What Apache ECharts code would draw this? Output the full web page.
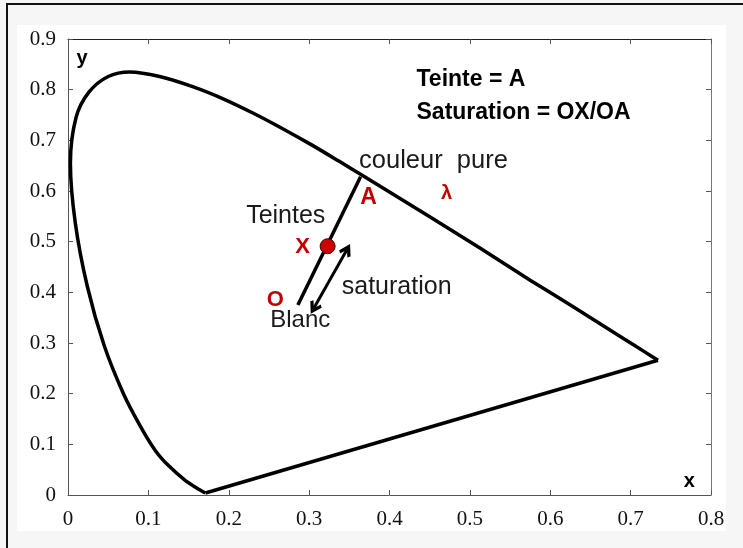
<!DOCTYPE html>
<html>
<head>
<meta charset="utf-8">
<script src="https://cdn.jsdelivr.net/npm/echarts@6/dist/echarts.min.js"></script>
<style>
html,body{margin:0;padding:0;width:743px;height:548px;overflow:hidden;background:#f6f6f6;}
#frame{position:absolute;left:6px;top:3px;width:800px;height:600px;border-left:2px solid #111;border-top:2px solid #111;}
#paper{position:absolute;left:17px;top:25px;width:709px;height:506px;background:#fff;}
#chart{position:absolute;left:0;top:0;width:743px;height:548px;}
</style>
</head>
<body>
<div id="frame"></div>
<div id="paper"></div>
<div id="chart"></div>
<script>
// Spectral locus (x, y chromaticity)
const locusX = [0.171,0.160,0.145,0.125,0.109,0.091,0.069,0.045,0.024,0.009,0.003,0.010,0.026,0.050,0.077,0.114,0.155,0.193,0.230,0.266,0.302,0.337,0.365,0.444,0.513,0.575,0.627,0.692,0.719,0.734];
const locusY = [0.004,0.014,0.030,0.058,0.087,0.133,0.200,0.295,0.412,0.538,0.655,0.745,0.795,0.826,0.835,0.826,0.806,0.782,0.754,0.724,0.692,0.659,0.632,0.555,0.487,0.424,0.373,0.308,0.281,0.266];
// Purple line (closing segment)
const purpleX = [0.734, 0.171];
const purpleY = [0.266, 0.004];
// White point O to pure colour A
const lineOAX = [0.286, 0.364];
const lineOAY = [0.375, 0.628];
// Sample colour X
const pointX = [0.323, 0.491];
// Saturation double arrow
const arrowFrom = [0.347, 0.484];
const arrowTo = [0.306, 0.369];
// Tick values
const xTicks = [0,0.1,0.2,0.3,0.4,0.5,0.6,0.7,0.8];
const yTicks = [0,0.1,0.2,0.3,0.4,0.5,0.6,0.7,0.8,0.9];
// Annotation texts and anchor coordinates
const annoText = ['y','x','Teinte = A','Saturation = OX/OA','couleur  pure','λ','A','Teintes','X','O','saturation','Blanc'];
const annoPos = [[0.0174,0.862],[0.773,0.026],[0.433,0.819],[0.433,0.754],[0.3615,0.659],[0.471,0.596],[0.374,0.586],[0.221,0.551],[0.292,0.489],[0.258,0.385],[0.340,0.4105],[0.251,0.345]];

const styles = {
  'y': {pos:'inside', bold:true, size:20, color:'#000'},
  'x': {pos:'inside', bold:true, size:20, color:'#000'},
  'Teinte = A': {pos:'right', bold:true, size:23, color:'#000'},
  'Saturation = OX/OA': {pos:'right', bold:true, size:23, color:'#000'},
  'couleur  pure': {pos:'right', bold:false, size:25.5, color:'#1a1a1a'},
  'λ': {pos:'inside', bold:true, size:20, color:'#c00000'},
  'A': {pos:'inside', bold:true, size:23, color:'#c00000'},
  'Teintes': {pos:'right', bold:false, size:25, color:'#1a1a1a'},
  'X': {pos:'inside', bold:true, size:22, color:'#c00000'},
  'O': {pos:'inside', bold:true, size:22, color:'#c00000'},
  'saturation': {pos:'right', bold:false, size:25, color:'#1a1a1a'},
  'Blanc': {pos:'right', bold:false, size:24, color:'#1a1a1a'}
};
const annoData = annoText.map((t,i)=>{
  const s = styles[t];
  return {value: annoPos[i], label: {show:true, formatter: t, position: s.pos, distance: 0, color: s.color,
    fontWeight: s.bold?'bold':'normal', fontSize: s.size, fontFamily:'Liberation Sans'}};
});

const chart = echarts.init(document.getElementById('chart'), null, {renderer:'canvas'});
const axisLineStyle = {color:'#555', width:1};
const tickLabelStyle = {fontFamily:'Liberation Serif', fontSize:21, color:'#111'};
const chevron = 'path://M5,0 L10,7 L8.2,8.6 L5,4.2 L1.8,8.6 L0,7 Z';

chart.setOption({
  animation:false,
  backgroundColor:'transparent',
  grid:{left:68, right:32, top:39, bottom:53, containLabel:false},
  xAxis:[
    {type:'value', min:0, max:0.8, interval:0.1, position:'bottom',
     axisLine:{show:true, onZero:false, lineStyle:axisLineStyle},
     axisTick:{show:true, inside:true, length:5, lineStyle:axisLineStyle},
     splitLine:{show:false},
     axisLabel:Object.assign({margin:14, formatter:v=>String(Math.round(v*10)/10)}, tickLabelStyle)},
    {type:'value', min:0, max:0.8, interval:0.1, position:'top',
     axisLine:{show:true, onZero:false, lineStyle:{color:'#222', width:1}},
     axisTick:{show:true, inside:true, length:5, lineStyle:axisLineStyle},
     splitLine:{show:false}, axisLabel:{show:false}}
  ],
  yAxis:[
    {type:'value', min:0, max:0.9, interval:0.1, position:'left',
     axisLine:{show:true, onZero:false, lineStyle:axisLineStyle},
     axisTick:{show:true, inside:true, length:5, lineStyle:axisLineStyle},
     splitLine:{show:false},
     axisLabel:Object.assign({margin:12, formatter:v=>String(Math.round(v*10)/10)}, tickLabelStyle)},
    {type:'value', min:0, max:0.9, interval:0.1, position:'right',
     axisLine:{show:true, onZero:false, lineStyle:{color:'#777', width:1}},
     axisTick:{show:true, inside:true, length:5, lineStyle:axisLineStyle},
     splitLine:{show:false}, axisLabel:{show:false}}
  ],
  series:[
    {type:'line', name:'locus', data: locusX.map((x,i)=>[x, locusY[i]]), smooth:0.3, symbol:'none',
     lineStyle:{color:'#000', width:3.5}, z:3},
    {type:'line', name:'purple', data: purpleX.map((x,i)=>[x, purpleY[i]]), symbol:'none',
     lineStyle:{color:'#000', width:3.5}, z:3},
    {type:'line', name:'OA', data: lineOAX.map((x,i)=>[x, lineOAY[i]]), symbol:'none',
     lineStyle:{color:'#000', width:3.5}, z:3},
    {type:'lines', coordinateSystem:'cartesian2d', name:'arrow',
     data:[{coords:[arrowFrom, arrowTo]}],
     symbol:[chevron, chevron], symbolSize:13,
     lineStyle:{color:'#000', width:3, opacity:1}, itemStyle:{color:'#000'}, z:4},
    {type:'scatter', name:'X', data:[pointX], symbolSize:15,
     itemStyle:{color:'#cc0000', borderColor:'#4a0000', borderWidth:1, opacity:1}, z:5},
    {type:'scatter', name:'annotations', data: annoData, symbol:'circle', symbolSize:1, z:6,
     itemStyle:{color:'rgba(0,0,0,0)', opacity:1}, emphasis:{disabled:true}, silent:true}
  ]
});
</script>
</body>
</html>
